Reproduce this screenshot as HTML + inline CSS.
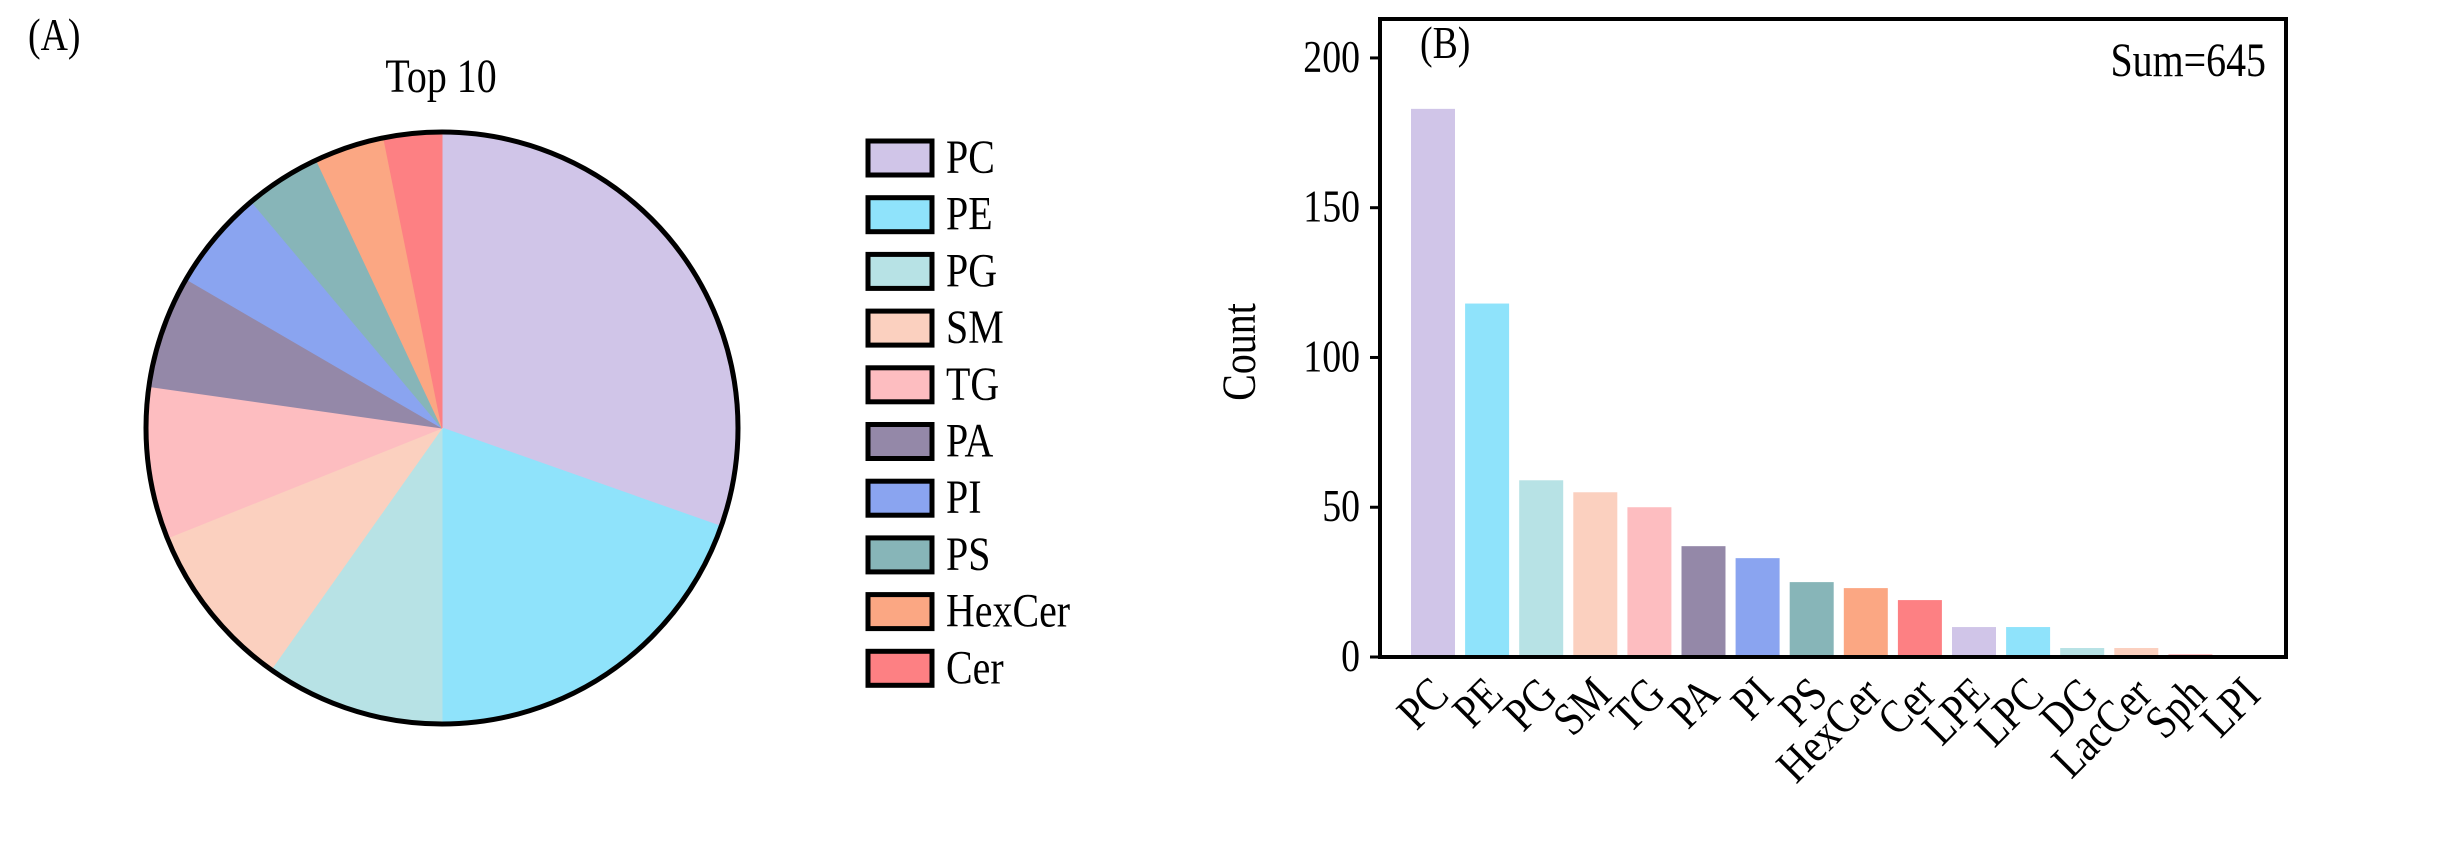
<!DOCTYPE html>
<html><head><meta charset="utf-8"><style>
html,body{margin:0;padding:0;background:#fff;}
svg{display:block;font-family:"Liberation Serif",serif;}
</style></head><body>
<svg id="fig" width="2450" height="848" viewBox="0 0 2450 848">
<g id="pie"></g>
<g id="legend"></g>
<g id="bars"></g>
<g id="labels"></g>
</svg>
<script>
const categories=["PC","PE","PG","SM","TG","PA","PI","PS","HexCer","Cer","LPE","LPC","DG","LacCer","Sph","LPI"];
const counts=[183,118,59,55,50,37,33,25,23,19,10,10,3,3,1,0];
const colors=["#d0c5e8","#8fe3fb","#b7e2e5","#fbd0bf","#fdbdc0","#9488a8","#8aa4f0","#87b5b8","#fba783","#fd8083","#d0c5e8","#8fe3fb","#b7e2e5","#fbd0bf","#fdbdc0","#fdbdc0"];
const yTicks=[0,50,100,150,200];
const sumLabel="Sum=645";
const NS="http://www.w3.org/2000/svg";
function mk(t,a,p){const e=document.createElementNS(NS,t);for(const k in a)e.setAttribute(k,a[k]);p.appendChild(e);return e;}
const SY=1.25;
function txt(p,x,y,s,size,anchor,rot){
  const tr=`translate(${x},${y})`+(rot?` rotate(${rot})`:'')+` scale(1.05,${SY})`;
  const t=mk('text',{x:0,y:0,'font-size':size,'text-anchor':anchor||'start',transform:tr},p);
  t.textContent=s;return t;
}
const lab=document.getElementById('labels');
let t=txt(lab,28,50,'(A)',36);


t=txt(lab,441,92,'Top 10',38,'middle');



// Pie
const pie=document.getElementById('pie');
const cx=442,cy=428,r=296;
const top10=counts.slice(0,10);const tot=top10.reduce((a,b)=>a+b,0);
let ang=0;
top10.forEach((v,i)=>{
  const a0=ang,a1=ang+v/tot*2*Math.PI;ang=a1;
  const x0=cx+r*Math.sin(a0),y0=cy-r*Math.cos(a0),x1=cx+r*Math.sin(a1),y1=cy-r*Math.cos(a1);
  const large=(a1-a0)>Math.PI?1:0;
  const p=mk('path',{d:`M${cx},${cy}L${x0},${y0}A${r},${r} 0 ${large} 1 ${x1},${y1}Z`,fill:colors[i],stroke:colors[i],'stroke-width':1},pie);
  
  
});
const rim=mk('circle',{cx:cx,cy:cy,r:r,fill:'none',stroke:'#000','stroke-width':5},pie);



// Legend
const lg=document.getElementById('legend');
top10.forEach((v,i)=>{
  const y=141+i*56.7;
  const g=mk('g',{},lg);
  
  
  mk('rect',{x:868,y:y,width:64,height:34,fill:colors[i],stroke:'#000','stroke-width':5},g);
  txt(g,946,y+32,categories[i],38);
});

// Bar chart
const bg=document.getElementById('bars');
const X0=1380,X1=2286,Y0=657,Ymax=213,YT=19;
const ys=v=>Y0-(v/Ymax)*(Y0-YT);
const step=54.1,first=1433,bw=44;
const xs=i=>first+i*step;
categories.forEach((c,i)=>{
  const b=mk('rect',{x:xs(i)-bw/2,y:ys(counts[i]),width:bw,height:Y0-ys(counts[i]),fill:colors[i]},bg);
  
  
  const t=txt(bg,xs(i)+18,Y0+40,c,38,'end',-45);
  
  
});
const frame=mk('rect',{x:X0,y:YT,width:X1-X0,height:Y0-YT,fill:'none',stroke:'#000','stroke-width':4},bg);


yTicks.forEach(v=>{
  mk('line',{x1:X0-10,x2:X0,y1:ys(v),y2:ys(v),stroke:'#000','stroke-width':3},bg);
  const t=txt(bg,X0-20,ys(v)+14,String(v),36,'end');
  
  
});
const yl=txt(bg,1255,352,'Count',38,'middle',-90);


const pb=txt(bg,1420,58,'(B)',36);


const sl=txt(bg,2266,76,sumLabel,38,'end');


</script>
</body></html>
